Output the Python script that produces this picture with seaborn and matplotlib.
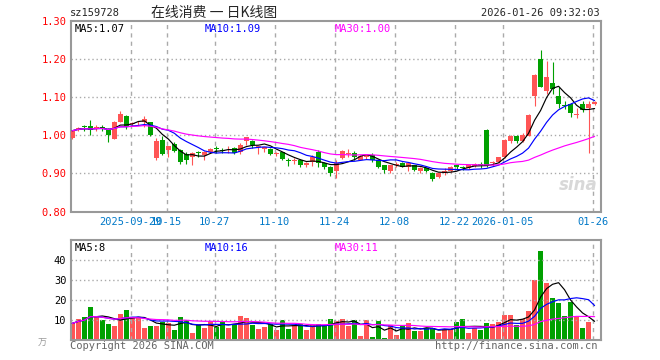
import numpy as np
import pandas as pd
import seaborn as sns
import matplotlib
matplotlib.use("Agg")
import matplotlib.pyplot as plt

# daily candles, 2025-09-15 .. 2026-01-26 (88 sessions)
opens = [0.993, 1.014, 1.022, 1.025, 1.020, 1.021, 1.013, 0.991, 1.036, 1.051,
         1.030, 1.031, 1.036, 1.035, 0.940, 0.988, 0.962, 0.976, 0.962, 0.951,
         0.944, 0.956, 0.947, 0.955, 0.965, 0.961, 0.968, 0.966, 0.957, 0.984,
         0.986, 0.970, 0.964, 0.964, 0.950, 0.955, 0.935, 0.932, 0.936, 0.922,
         0.931, 0.955, 0.927, 0.918, 0.905, 0.940, 0.950, 0.953, 0.936, 0.942,
         0.948, 0.935, 0.921, 0.907, 0.923, 0.927, 0.917, 0.921, 0.905, 0.913,
         0.901, 0.891, 0.902, 0.906, 0.921, 0.917, 0.914, 0.920, 0.923, 1.015,
         0.926, 0.930, 0.943, 0.986, 0.999, 0.984, 0.999, 1.103, 1.200, 1.116,
         1.136, 1.104, 1.079, 1.083, 1.053, 1.083, 1.072, 1.083]
highs = [1.013, 1.022, 1.028, 1.041, 1.026, 1.027, 1.019, 1.037, 1.065, 1.052,
         1.034, 1.038, 1.050, 1.036, 0.993, 0.997, 0.973, 0.982, 0.963, 0.955,
         0.955, 0.960, 0.958, 0.966, 0.972, 0.966, 0.972, 0.970, 0.979, 0.996,
         0.988, 0.972, 0.970, 0.966, 0.957, 0.957, 0.940, 0.940, 0.937, 0.930,
         0.949, 0.962, 0.930, 0.919, 0.935, 0.962, 0.964, 0.960, 0.948, 0.950,
         0.953, 0.937, 0.922, 0.923, 0.929, 0.929, 0.927, 0.922, 0.917, 0.914,
         0.903, 0.902, 0.914, 0.919, 0.922, 0.919, 0.923, 0.926, 0.929, 1.016,
         0.933, 0.944, 0.989, 1.000, 1.001, 1.006, 1.055, 1.162, 1.225, 1.194,
         1.192, 1.126, 1.089, 1.085, 1.071, 1.089, 1.089, 1.091]
lows = [0.990, 1.010, 1.010, 1.000, 1.010, 1.010, 0.982, 0.990, 1.035, 1.016,
        1.025, 1.026, 1.022, 0.997, 0.936, 0.947, 0.944, 0.955, 0.925, 0.925,
        0.922, 0.944, 0.936, 0.953, 0.953, 0.953, 0.953, 0.951, 0.950, 0.975,
        0.966, 0.951, 0.955, 0.949, 0.946, 0.934, 0.920, 0.925, 0.916, 0.916,
        0.920, 0.918, 0.912, 0.893, 0.888, 0.938, 0.944, 0.934, 0.935, 0.938,
        0.931, 0.913, 0.902, 0.900, 0.918, 0.916, 0.905, 0.905, 0.900, 0.904,
        0.881, 0.889, 0.895, 0.904, 0.910, 0.909, 0.912, 0.917, 0.915, 0.917,
        0.920, 0.928, 0.941, 0.979, 0.979, 0.982, 0.997, 1.076, 1.126, 1.108,
        1.108, 1.072, 1.069, 1.047, 1.045, 1.060, 0.954, 1.080]
closes = [1.012, 1.019, 1.021, 1.015, 1.021, 1.019, 1.001, 1.036, 1.057, 1.023,
          1.032, 1.033, 1.044, 1.001, 0.984, 0.950, 0.972, 0.958, 0.929, 0.934,
          0.953, 0.954, 0.957, 0.964, 0.963, 0.959, 0.970, 0.953, 0.975, 0.995,
          0.975, 0.972, 0.969, 0.951, 0.952, 0.938, 0.933, 0.935, 0.922, 0.928,
          0.944, 0.928, 0.916, 0.900, 0.927, 0.958, 0.952, 0.943, 0.945, 0.949,
          0.935, 0.916, 0.909, 0.921, 0.925, 0.918, 0.926, 0.908, 0.915, 0.906,
          0.886, 0.901, 0.905, 0.918, 0.918, 0.915, 0.922, 0.924, 0.921, 0.920,
          0.929, 0.944, 0.988, 0.999, 0.984, 1.001, 1.054, 1.159, 1.127, 1.154,
          1.122, 1.081, 1.076, 1.059, 1.056, 1.066, 1.082, 1.088]
# volume in 万
volumes = [8.3, 10.3, 11.3, 16.7, 11.7, 10.0, 8.0, 7.0, 13.0, 15.0,
           11.3, 10.8, 6.2, 7.0, 7.0, 9.2, 8.7, 5.0, 11.3, 10.0,
           3.7, 7.5, 6.2, 9.7, 6.7, 9.2, 6.2, 8.0, 12.0, 10.8,
           7.5, 5.7, 6.7, 7.8, 5.0, 10.0, 5.7, 7.5, 7.8, 5.0,
           7.5, 8.0, 7.5, 10.3, 9.7, 10.3, 7.2, 10.0, 2.0, 10.0,
           1.7, 9.7, 1.2, 7.5, 2.5, 7.5, 8.3, 4.5, 4.5, 5.8,
           6.2, 3.7, 5.3, 5.3, 9.2, 10.3, 3.7, 5.8, 5.0, 8.7,
           8.0, 9.2, 12.5, 12.5, 7.5, 10.3, 14.7, 30.0, 44.7, 28.7,
           21.2, 18.7, 12.2, 19.2, 11.3, 6.2, 9.2, 0.7]

date_pos = [10, 16, 24, 34, 44, 54, 64, 72, 87]
date_labels = ['2025-09-29', '10-15', '10-27', '11-10', '11-24',
               '12-08', '12-22', '2026-01-05', '01-26']
price_ticks = [0.80, 0.90, 1.00, 1.10, 1.20, 1.30]
vol_ticks = [10, 20, 30, 40]
ma_windows = [5, 10, 30]
ma_colors = ['black', '#0000ff', '#ff00ff']
price_ma_vals = ['1.07', '1.09', '1.00']
vol_ma_vals = ['8', '16', '11']

RED = '#ff5555'
GREEN = '#00a000'
GRID = '#aaaaaa'
BORDER = '#999999'
MONO = 'DejaVu Sans Mono'

sns.set_theme(style='white')
plt.rcParams['font.family'] = [MONO, 'Noto Sans CJK SC']

df = pd.DataFrame({'o': opens, 'h': highs, 'l': lows, 'c': closes, 'vol': volumes})
df['idx'] = np.arange(len(df))
df['up'] = df['c'] >= df['o']

fig = plt.figure(figsize=(6.6, 3.6), dpi=100, facecolor='white')
ax = fig.add_axes([70.6 / 660, 1 - 211.5 / 360, 530 / 660, 190.5 / 360])
axv = fig.add_axes([70.6 / 660, 1 - 340 / 360, 530 / 660, 100 / 360])

# candles
for up, col in [(True, RED), (False, GREEN)]:
    d = df[df['up'] == up]
    ax.vlines(d['idx'], d['l'], d['h'], color=col, lw=0.8, zorder=2)
    body = np.maximum((d['c'] - d['o']).abs(), 0.0025)
    ax.bar(d['idx'], body, bottom=np.minimum(d['o'], d['c']), width=0.78,
           color=col, linewidth=0, zorder=3)

for w, col in zip(ma_windows, ma_colors):
    ma = df['c'].rolling(w, min_periods=1).mean()
    sns.lineplot(x=df['idx'], y=ma, color=col, lw=0.85, ax=ax, zorder=4)

# volume
sns.barplot(data=df, x='idx', y='vol', hue='up', palette={True: RED, False: GREEN},
            dodge=False, width=0.78, saturation=1, linewidth=0, legend=False, ax=axv)
for w, col in zip(ma_windows, ma_colors):
    ma = df['vol'].rolling(w, min_periods=1).mean()
    sns.lineplot(x=df['idx'].values, y=ma.values, color=col, lw=0.85, ax=axv, zorder=4)

grid_x = [p - 0.3 for p in date_pos]
for a in (ax, axv):
    a.set_xlim(-0.28, 88.0)
    a.set_xlabel('')
    a.set_ylabel('')
    for x in grid_x:
        a.axvline(x, color=GRID, lw=1, ls=(0, (3, 3)), zorder=1)
    for s in a.spines.values():
        s.set_color(BORDER)
        s.set_linewidth(1.5)
    a.tick_params(length=0)

ax.set_ylim(0.80, 1.30)
ax.set_yticks(price_ticks)
ax.set_yticklabels([f'{t:.2f}' for t in price_ticks], color='red', fontsize=7.5, family=MONO)
for t in price_ticks[1:-1]:
    ax.axhline(t, color=GRID, lw=1, ls=(0, (1, 2)), zorder=1)
ax.set_xticks(grid_x)
ax.set_xticklabels(date_labels, color='#0078c8', fontsize=7.5, family=MONO)
ax.tick_params(axis='x', pad=4)
ax.tick_params(axis='y', pad=3)

axv.set_ylim(0, 50)
axv.set_yticks(vol_ticks)
axv.set_yticklabels([str(t) for t in vol_ticks], color='black', fontsize=7.5, family=MONO)
axv.tick_params(axis='y', pad=3)
for t in vol_ticks:
    axv.axhline(t, color=GRID, lw=1, ls=(0, (1, 2)), zorder=1)
axv.set_xticks(grid_x)
axv.set_xticklabels([])

# MA legends
leg_x = [0.008, 0.2536, 0.499]
for x, w, col, v in zip(leg_x, ma_windows, ma_colors, price_ma_vals):
    ax.text(x, 0.985, f'MA{w}:{v}', transform=ax.transAxes, color=col,
            fontsize=7.5, family=MONO, va='top', ha='left')
for x, w, col, v in zip(leg_x, ma_windows, ma_colors, vol_ma_vals):
    axv.text(x, 0.97, f'MA{w}:{v}', transform=axv.transAxes, color=col,
             fontsize=7.5, family=MONO, va='top', ha='left')

# watermark
ax.text(0.957, 0.14, 'sina', transform=ax.transAxes, color='#d8d8d8', fontsize=12,
        fontweight='bold', style='italic', ha='center', va='center', family='DejaVu Sans')

# header / footer
ty = 1 - 13 / 360
fig.text(70 / 660, ty, 'sz159728', fontsize=7.5, family=MONO, va='center', ha='left')
fig.text(151 / 660, ty, '在线消费 一 日K线图', fontsize=10, family=['Noto Sans CJK SC', 'DejaVu Sans'],
         va='center', ha='left')
fig.text(600 / 660, ty, '2026-01-26 09:32:03', fontsize=7.5, family=MONO, va='center', ha='right')
fig.text(38 / 660, 1 - 343 / 360, '万', fontsize=6.5, color='#999999',
         family=['Noto Sans CJK SC'], va='center', ha='left')
fig.text(70 / 660, 1 - 346 / 360, 'Copyright 2026 SINA.COM', fontsize=7.5, family=MONO,
         color='#666666', va='center', ha='left')
fig.text(597 / 660, 1 - 346 / 360, 'http://finance.sina.com.cn', fontsize=7.5, family=MONO,
         color='#666666', va='center', ha='right')

fig.savefig('out.png', dpi=100, facecolor='white')
